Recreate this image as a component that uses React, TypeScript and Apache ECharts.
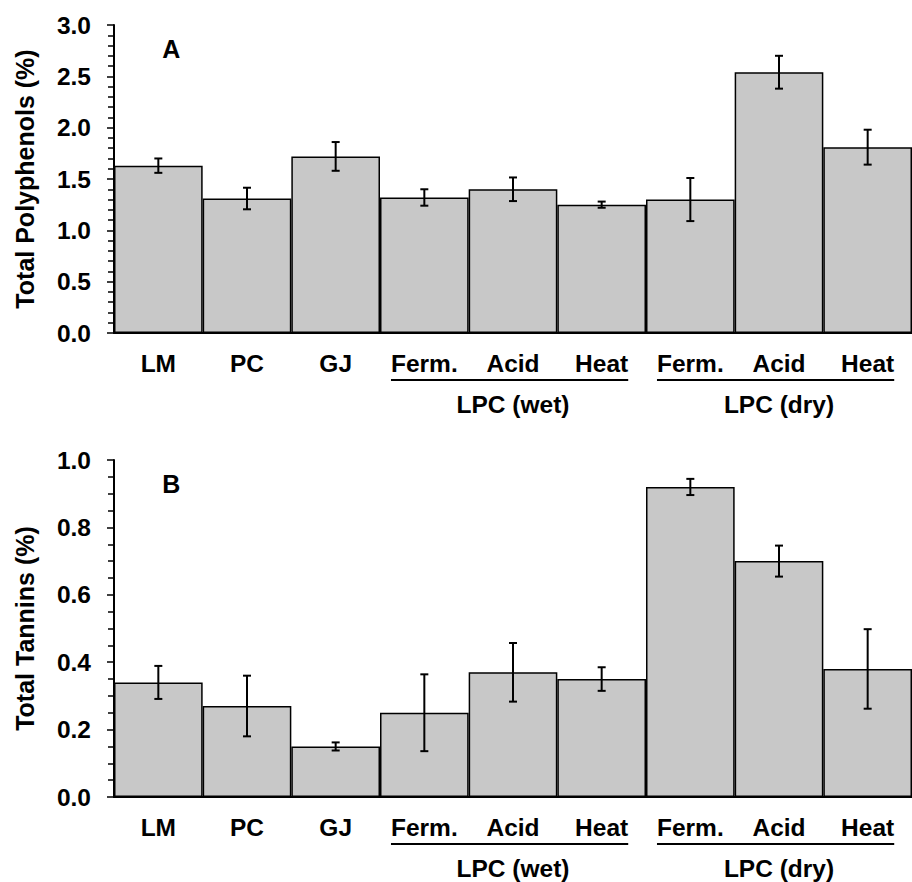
import React, { useEffect, useRef } from "react";
import * as echarts from "echarts";

const categories = ["LM", "PC", "GJ", "Ferm.", "Acid", "Heat", "Ferm.", "Acid", "Heat"];
const polyphenolMean = [1.63, 1.31, 1.72, 1.32, 1.40, 1.25, 1.30, 2.54, 1.81];
const polyphenolErr = [0.07, 0.105, 0.14, 0.08, 0.115, 0.03, 0.21, 0.16, 0.17];
const tanninMean = [0.34, 0.27, 0.15, 0.25, 0.37, 0.35, 0.92, 0.70, 0.38];
const tanninErr = [0.049, 0.09, 0.012, 0.114, 0.087, 0.035, 0.024, 0.046, 0.118];
const groups = [
  { label: "LPC (wet)", start: 3, end: 5 },
  { label: "LPC (dry)", start: 6, end: 8 },
];
const panelLetters = ["A", "B"];
const yNames = ["Total Polyphenols (%)", "Total Tannins (%)"];

const FONT = "'Liberation Sans', Arial, Helvetica, sans-serif";
const FS = 24.5;

function measure(text: string): number {
  const c = document.createElement("canvas").getContext("2d");
  if (!c) return text.length * FS * 0.6;
  c.font = `bold ${FS}px ${FONT}`;
  return c.measureText(text).width;
}

export default function App() {
  const ref = useRef<HTMLDivElement>(null);
  useEffect(() => {
    if (!ref.current) return;
    const chart = echarts.init(ref.current, undefined, { renderer: "svg" });
    const textStyle = { color: "#000", fontSize: FS, fontWeight: "bold" as const, fontFamily: FONT };
    const grids = [
      { left: 114, top: 25, width: 805, height: 308 },
      { left: 114, top: 460, width: 805, height: 337 },
    ];
    const yAx = (gi: number, max: number, interval: number, split: number) => ({
      type: "value",
      gridIndex: gi,
      min: 0,
      max,
      interval,
      axisLine: { show: true, lineStyle: { color: "#000", width: 2 } },
      axisTick: { show: true, length: 7, lineStyle: { color: "#000", width: 1.5 } },
      minorTick: { show: true, splitNumber: split, length: 6, lineStyle: { color: "#000", width: 1.5 } },
      splitLine: { show: false },
      axisLabel: { ...textStyle, margin: 23, formatter: (v: number) => v.toFixed(1) },
      name: yNames[gi],
      nameLocation: "middle",
      nameGap: 77,
      nameTextStyle: { ...textStyle, fontSize: 25 },
    });
    const xAx = (gi: number) => ({
      type: "category",
      gridIndex: gi,
      data: categories,
      axisLine: { show: true, onZero: false, lineStyle: { color: "#000", width: 2 } },
      axisTick: { show: false },
      axisLabel: { ...textStyle, margin: 18, interval: 0 },
      splitLine: { show: false },
    });
    const errData = (mean: number[], err: number[]) => mean.map((m, i) => [i, m - err[i], m + err[i]]);
    const renderErr = (params: any, api: any) => {
      const x = api.value(0);
      const lo = api.coord([x, api.value(1)]);
      const hi = api.coord([x, api.value(2)]);
      const hw = 4;
      const st = { stroke: "#000", lineWidth: 2 };
      return {
        type: "group",
        children: [
          { type: "line", shape: { x1: lo[0], y1: lo[1], x2: hi[0], y2: hi[1] }, style: st },
          { type: "line", shape: { x1: lo[0] - hw, y1: lo[1], x2: lo[0] + hw, y2: lo[1] }, style: st },
          { type: "line", shape: { x1: hi[0] - hw, y1: hi[1], x2: hi[0] + hw, y2: hi[1] }, style: st },
        ],
      };
    };
    const bar = (gi: number, data: number[]) => ({
      type: "bar",
      xAxisIndex: gi,
      yAxisIndex: gi,
      data,
      barCategoryGap: "0%",
      itemStyle: { color: "#c8c8c8", borderColor: "#000", borderWidth: 1.5 },
      z: 2,
    });
    const err = (gi: number, mean: number[], e: number[]) => ({
      type: "custom",
      xAxisIndex: gi,
      yAxisIndex: gi,
      data: errData(mean, e),
      encode: { x: 0, y: [1, 2] },
      renderItem: renderErr,
      z: 5,
    });
    chart.setOption({
      animation: false,
      backgroundColor: "#fff",
      grid: grids,
      xAxis: [xAx(0), xAx(1)],
      yAxis: [yAx(0, 3, 0.5, 5), yAx(1, 1, 0.2, 4)],
      series: [
        bar(0, polyphenolMean),
        err(0, polyphenolMean, polyphenolErr),
        bar(1, tanninMean),
        err(1, tanninMean, tanninErr),
      ],
    });

    const graphics: any[] = [];
    [0, 1].forEach((gi) => {
      const axisY = chart.convertToPixel({ yAxisIndex: gi }, 0) as number;
      const topY = chart.convertToPixel({ yAxisIndex: gi }, gi === 0 ? 3 : 1) as number;
      const firstX = chart.convertToPixel({ xAxisIndex: gi }, 0) as number;
      graphics.push({
        type: "text",
        x: firstX + 13,
        y: topY + 24,
        style: { text: panelLetters[gi], fill: "#000", font: `bold 25px ${FONT}`, align: "center", verticalAlign: "middle" },
      });
      groups.forEach((g) => {
        const xs = chart.convertToPixel({ xAxisIndex: gi }, g.start) as number;
        const xe = chart.convertToPixel({ xAxisIndex: gi }, g.end) as number;
        const xm = (xs + xe) / 2;
        const x1 = xs - measure(categories[g.start]) / 2;
        const x2 = xe + measure(categories[g.end]) / 2;
        graphics.push({
          type: "line",
          shape: { x1, y1: axisY + 47, x2, y2: axisY + 47 },
          style: { stroke: "#000", lineWidth: 2 },
        });
        graphics.push({
          type: "text",
          x: xm,
          y: axisY + 71,
          style: { text: g.label, fill: "#000", font: `bold ${FS}px ${FONT}`, align: "center", verticalAlign: "middle" },
        });
      });
    });
    chart.setOption({ graphic: graphics });
    return () => chart.dispose();
  }, []);
  return <div ref={ref} style={{ position: "absolute", left: 0, top: 0, width: 912, height: 882 }} />;
}
